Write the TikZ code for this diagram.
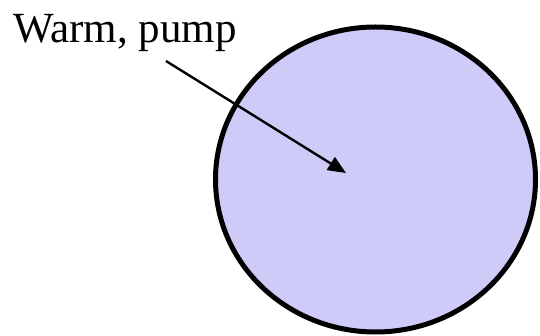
\documentclass[tikz,border=0pt]{standalone}
\usepackage{fontspec}
\setmainfont{Liberation Serif}
\usetikzlibrary{shapes.geometric,arrows.meta}
\definecolor{lavender}{RGB}{207,203,248}

\begin{document}
\begin{tikzpicture}[x=1pt, y=1pt, every node/.style={font=\fontsize{43}{47}\selectfont}]
        \useasboundingbox (0,0) rectangle (540,-336);
        \node[draw, ellipse, fill=lavender, line width=5pt, minimum width=320pt, minimum height=305pt, inner sep=0pt] (tank) at (375.5,-179.5) {};
        \node[anchor=base west, inner sep=0pt] (lbl) at (13,-43) {Warm, pump};

        \coordinate (tail) at (166,-61);
        \coordinate (tip) at (346,-173);
        \draw[-{Triangle[length=18pt, width=15pt]}, line width=2.4pt] (tail) -- (tip);
    \end{tikzpicture}
\end{document}
